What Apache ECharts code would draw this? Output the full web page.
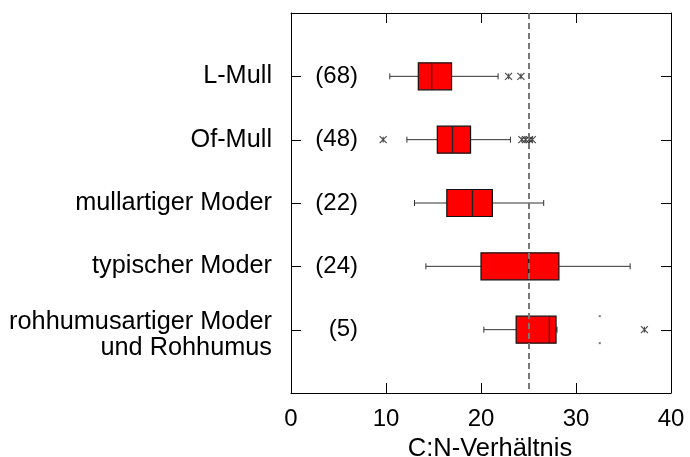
<!DOCTYPE html>
<html>
<head>
<meta charset="utf-8">
<script src="https://cdn.jsdelivr.net/npm/echarts@6/dist/echarts.min.js"></script>
<style>
  html, body { margin: 0; padding: 0; background: #fff; }
  #chart { width: 690px; height: 457px; }
</style>
</head>
<body>
<div id="chart"></div>
<script>
// Humus forms (top to bottom) and sample counts
const categories = [
  'L-Mull',
  'Of-Mull',
  'mullartiger Moder',
  'typischer Moder',
  'rohhumusartiger Moder\nund Rohhumus'
];
const counts = [68, 48, 22, 24, 5];

// Five-number summaries of the C:N ratio: [lower whisker, Q1, median, Q3, upper whisker]
const lowWhisker = [10.4, 12.2, 13.0, 14.2, 20.3];
const q1 = [13.4, 15.4, 16.4, 20.0, 23.7];
const median = [14.8, 17.0, 19.1, 25.0, 27.2];
const q3 = [16.9, 18.9, 21.2, 28.2, 27.9];
const highWhisker = [21.8, 23.1, 26.6, 35.7, 28.0];

// Outliers per humus form (index into categories)
const outlierCat = [0, 0, 1, 1, 1, 1, 1, 4];
const outlierVal = [22.9, 24.2, 9.7, 24.3, 24.7, 25.1, 25.4, 37.2];

// Extra faint markers at the box edges of the last group
const faintCat = [4];
const faintVal = [32.5];

// Reference C:N value (dashed line)
const referenceValue = 25;

// Axis ticks
const xTickValues = [0, 10, 20, 30, 40];
const yTickValues = [0, 1, 2, 3, 4, 5, 6];
const xMin = 0, xMax = 40, xStep = 10;

const FONT = 'Liberation Sans, Arial, sans-serif';
const BOX_HALF = 0.213; // half box height in category units
const TICK_LEN = 10;

const boxData = categories.map((c, i) => [i + 1, lowWhisker[i], q1[i], median[i], q3[i], highWhisker[i], counts[i]]);
const outlierData = outlierVal.map((v, i) => [v, outlierCat[i] + 1]);
const faintData = faintVal.map((v, i) => [v, faintCat[i] + 1]);
// [x, y, kind]: kind 0 = tick on the horizontal frame edges, 1 = tick on the vertical frame edges
const tickData = xTickValues.map(v => [v, 0, 0]).concat(yTickValues.map(v => [0, v, 1]));

const chart = echarts.init(document.getElementById('chart'), null, { renderer: 'canvas' });

function frameLine() {
  return { show: true, onZero: false, lineStyle: { color: '#000', width: 1 } };
}
const catText = { color: '#000', fontSize: 25.3, fontFamily: FONT, lineHeight: 26, align: 'right' };

// Two-line names get a small empty leading line so the pair sits slightly below the tick
function categoryLabel(v) {
  if (v < 1 || v > categories.length) return '';
  const lines = categories[v - 1].split('\n');
  if (lines.length === 1) return lines[0];
  return '{gap| }\n' + lines.map(l => '{txt|' + l + '}').join('\n');
}

chart.setOption({
  animation: false,
  backgroundColor: '#fff',
  grid: { left: 291, right: 19, top: 13, bottom: 64, outerBoundsMode: 'none' },
  xAxis: [
    {
      type: 'value', min: xMin, max: xMax, interval: xStep, position: 'bottom',
      axisLine: frameLine(), axisTick: { show: false }, splitLine: { show: false },
      axisLabel: { color: '#000', fontSize: 24, fontFamily: FONT, margin: 14 },
      name: 'C:N-Verhältnis', nameLocation: 'middle', nameGap: 31,
      nameTextStyle: { color: '#000', fontSize: 25.5, fontFamily: FONT, padding: [0, 0, 0, 18] }
    },
    {
      type: 'value', min: xMin, max: xMax, interval: xStep, position: 'top',
      axisLine: frameLine(), axisTick: { show: false }, splitLine: { show: false },
      axisLabel: { show: false }
    }
  ],
  yAxis: [
    {
      type: 'value', min: 0, max: categories.length + 1, interval: 1, inverse: true, position: 'left',
      axisLine: frameLine(), axisTick: { show: false }, splitLine: { show: false },
      axisLabel: {
        color: '#000', fontSize: 25.3, fontFamily: FONT, margin: 19, align: 'right',
        formatter: categoryLabel,
        rich: {
          gap: { fontSize: 2, lineHeight: 10 },
          txt: catText
        }
      }
    },
    {
      type: 'value', min: 0, max: categories.length + 1, interval: 1, inverse: true, position: 'right',
      axisLine: frameLine(), axisTick: { show: false }, splitLine: { show: false },
      axisLabel: { show: false }
    }
  ],
  series: [
    {
      // Inward ticks on all four sides of the frame
      type: 'custom',
      name: 'frameTicks',
      encode: { x: 0, y: 1 },
      data: tickData,
      silent: true,
      z: 4,
      renderItem(params, api) {
        const cs = params.coordSys;
        const st = { stroke: '#000', lineWidth: 1 };
        if (api.value(2) === 0) {
          const px = Math.round(api.coord([api.value(0), 0])[0]) + 0.5;
          return {
            type: 'group',
            children: [
              { type: 'line', shape: { x1: px, y1: cs.y, x2: px, y2: cs.y + TICK_LEN }, style: st },
              { type: 'line', shape: { x1: px, y1: cs.y + cs.height - TICK_LEN, x2: px, y2: cs.y + cs.height }, style: st }
            ]
          };
        }
        const py = Math.round(api.coord([0, api.value(1)])[1]) + 0.5;
        return {
          type: 'group',
          children: [
            { type: 'line', shape: { x1: cs.x, y1: py, x2: cs.x + TICK_LEN, y2: py }, style: st },
            { type: 'line', shape: { x1: cs.x + cs.width - TICK_LEN, y1: py, x2: cs.x + cs.width, y2: py }, style: st }
          ]
        };
      }
    },
    {
      type: 'custom',
      name: 'boxes',
      encode: { x: [1, 2, 3, 4, 5], y: 0 },
      data: boxData,
      renderItem(params, api) {
        const cat = api.value(0);
        const pLo = api.coord([api.value(1), cat]);
        const pQ1 = api.coord([api.value(2), cat]);
        const pMed = api.coord([api.value(3), cat]);
        const pQ3 = api.coord([api.value(4), cat]);
        const pHi = api.coord([api.value(5), cat]);
        const half = api.size([0, BOX_HALF])[1];
        const cy = pMed[1];
        const cap = 3;
        const wStyle = { stroke: '#333', lineWidth: 1 };
        const label = api.coord([7.05, cat]);
        return {
          type: 'group',
          children: [
            { type: 'line', shape: { x1: pLo[0], y1: cy, x2: pQ1[0], y2: cy }, style: wStyle },
            { type: 'line', shape: { x1: pQ3[0], y1: cy, x2: pHi[0], y2: cy }, style: wStyle },
            { type: 'line', shape: { x1: pLo[0], y1: cy - cap, x2: pLo[0], y2: cy + cap }, style: wStyle },
            { type: 'line', shape: { x1: pHi[0], y1: cy - cap, x2: pHi[0], y2: cy + cap }, style: wStyle },
            {
              type: 'rect',
              shape: { x: pQ1[0], y: cy - half, width: pQ3[0] - pQ1[0], height: 2 * half },
              style: { fill: '#ff0000', stroke: '#111', lineWidth: 1.2 }
            },
            {
              type: 'line', shape: { x1: pMed[0], y1: cy - half, x2: pMed[0], y2: cy + half },
              style: { stroke: '#222', lineWidth: 1.3 }
            },
            {
              type: 'text', x: label[0], y: label[1],
              style: {
                text: '(' + api.value(6) + ')', fill: '#000', fontSize: 24, fontFamily: FONT,
                align: 'right', verticalAlign: 'middle'
              }
            }
          ]
        };
      }
    },
    {
      // Outliers as asterisk-like crosses
      type: 'scatter',
      name: 'outliers',
      data: outlierData,
      symbol: 'path://M0,0L10,10M0,10L10,0M5,1L5,9',
      symbolSize: 7,
      itemStyle: { color: 'rgba(0,0,0,0)', borderColor: '#222', borderWidth: 1.2 },
      emphasis: { disabled: true },
      z: 3
    },
    {
      type: 'custom',
      name: 'faint',
      encode: { x: 0, y: 1 },
      data: faintData,
      renderItem(params, api) {
        const cat = api.value(1);
        const half = api.size([0, BOX_HALF])[1];
        const p = api.coord([api.value(0), cat]);
        const st = { fill: '#777' };
        return {
          type: 'group',
          children: [
            { type: 'rect', shape: { x: p[0] - 1, y: p[1] - half - 1, width: 2, height: 2 }, style: st },
            { type: 'rect', shape: { x: p[0] - 1, y: p[1] + half - 1, width: 2, height: 2 }, style: st }
          ]
        };
      },
      markLine: {
        silent: true,
        symbol: 'none',
        label: { show: false },
        lineStyle: { color: '#777', width: 2, type: [6, 4] },
        data: [{ xAxis: referenceValue }]
      }
    }
  ]
});
</script>
</body>
</html>
